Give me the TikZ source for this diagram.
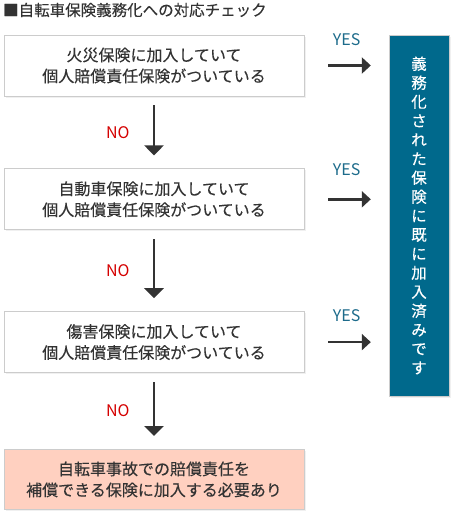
\documentclass[tikz,border=0pt]{standalone}
\usepackage{fontspec}
\setmainfont{Noto Sans CJK JP}[FakeBold=0.25]
\newfontfamily\plainfont{Noto Sans CJK JP}
\usetikzlibrary{arrows.meta,positioning,shadows}
\definecolor{ink}{HTML}{333333}
\definecolor{frame}{HTML}{CCCCCC}
\definecolor{result}{HTML}{00698C}
\definecolor{need}{HTML}{FFD0C0}
\definecolor{yes}{HTML}{1D6B8B}
\definecolor{no}{HTML}{D40000}

\begin{document}
\begin{tikzpicture}[x=1pt, y=-1pt,
  font=\fontsize{16}{21}\selectfont, text=ink,
  check/.style={draw=frame, fill=white, line width=0.8pt, align=center, minimum width=300pt, minimum height=61pt, inner sep=0pt,
    drop shadow={opacity=0.12, shadow xshift=1.5pt, shadow yshift=-1.5pt}},
  noflow/.style={-{Triangle[width=19pt,length=10pt]}, line width=2.8pt, draw=ink, shorten <=9pt, shorten >=13pt},
  yesflow/.style={-{Triangle[width=16pt,length=9pt]}, line width=2.6pt, draw=ink, shorten <=24pt, shorten >=18pt},
  nolabel/.style={text=no, inner sep=0pt, font=\plainfont\fontsize{16}{16}\selectfont},
  yeslabel/.style={text=yes, inner sep=0pt, font=\plainfont\fontsize{16}{16}\selectfont}
]
\useasboundingbox (0,0) rectangle (457,514);

\node[anchor=west, inner sep=0pt, font=\fontsize{15.5}{16}\selectfont] (title) at (3,10) {■自転車保険義務化への対応チェック};

\node[check] (fire) at (154,65.5) {火災保険に加入していて\\個人賠償責任保険がついている};
\node[check, below=72pt of fire] (car) {自動車保険に加入していて\\個人賠償責任保険がついている};
\node[check, below=81pt of car] (injury) {傷害保険に加入していて\\個人賠償責任保険がついている};
\node[check, fill=need, minimum height=60pt, below=76pt of injury] (need) {自転車事故での賠償責任を\\補償できる保険に加入する必要あり};

\node[draw=frame, fill=result, text=white, minimum width=60pt, minimum height=361pt, inner sep=0pt, align=center,
  font=\fontsize{15.5}{19}\selectfont,
  drop shadow={opacity=0.12, shadow xshift=1.5pt, shadow yshift=-1.5pt}] (done) at (419,215.5)
  {義\\務\\化\\さ\\れ\\た\\保\\険\\に\\既\\に\\加\\入\\済\\み\\で\\す};

\draw[noflow] (fire.south) -- (car.north) node[midway, left=23pt, nolabel] {NO};
\draw[noflow] (car.south) -- (injury.north) node[midway, left=23pt, nolabel] {NO};
\draw[noflow] (injury.south) -- (need.north) node[midway, left=23pt, nolabel] {NO};

\draw[yesflow] (fire.east) -- (fire.east -| done.west) node[midway, above=18pt, yeslabel] {YES};
\draw[yesflow] (car.east) -- (car.east -| done.west) node[midway, above=22pt, yeslabel] {YES};
\draw[yesflow] (injury.east) -- (injury.east -| done.west) node[midway, above=19pt, yeslabel] {YES};

\end{tikzpicture}
\end{document}
